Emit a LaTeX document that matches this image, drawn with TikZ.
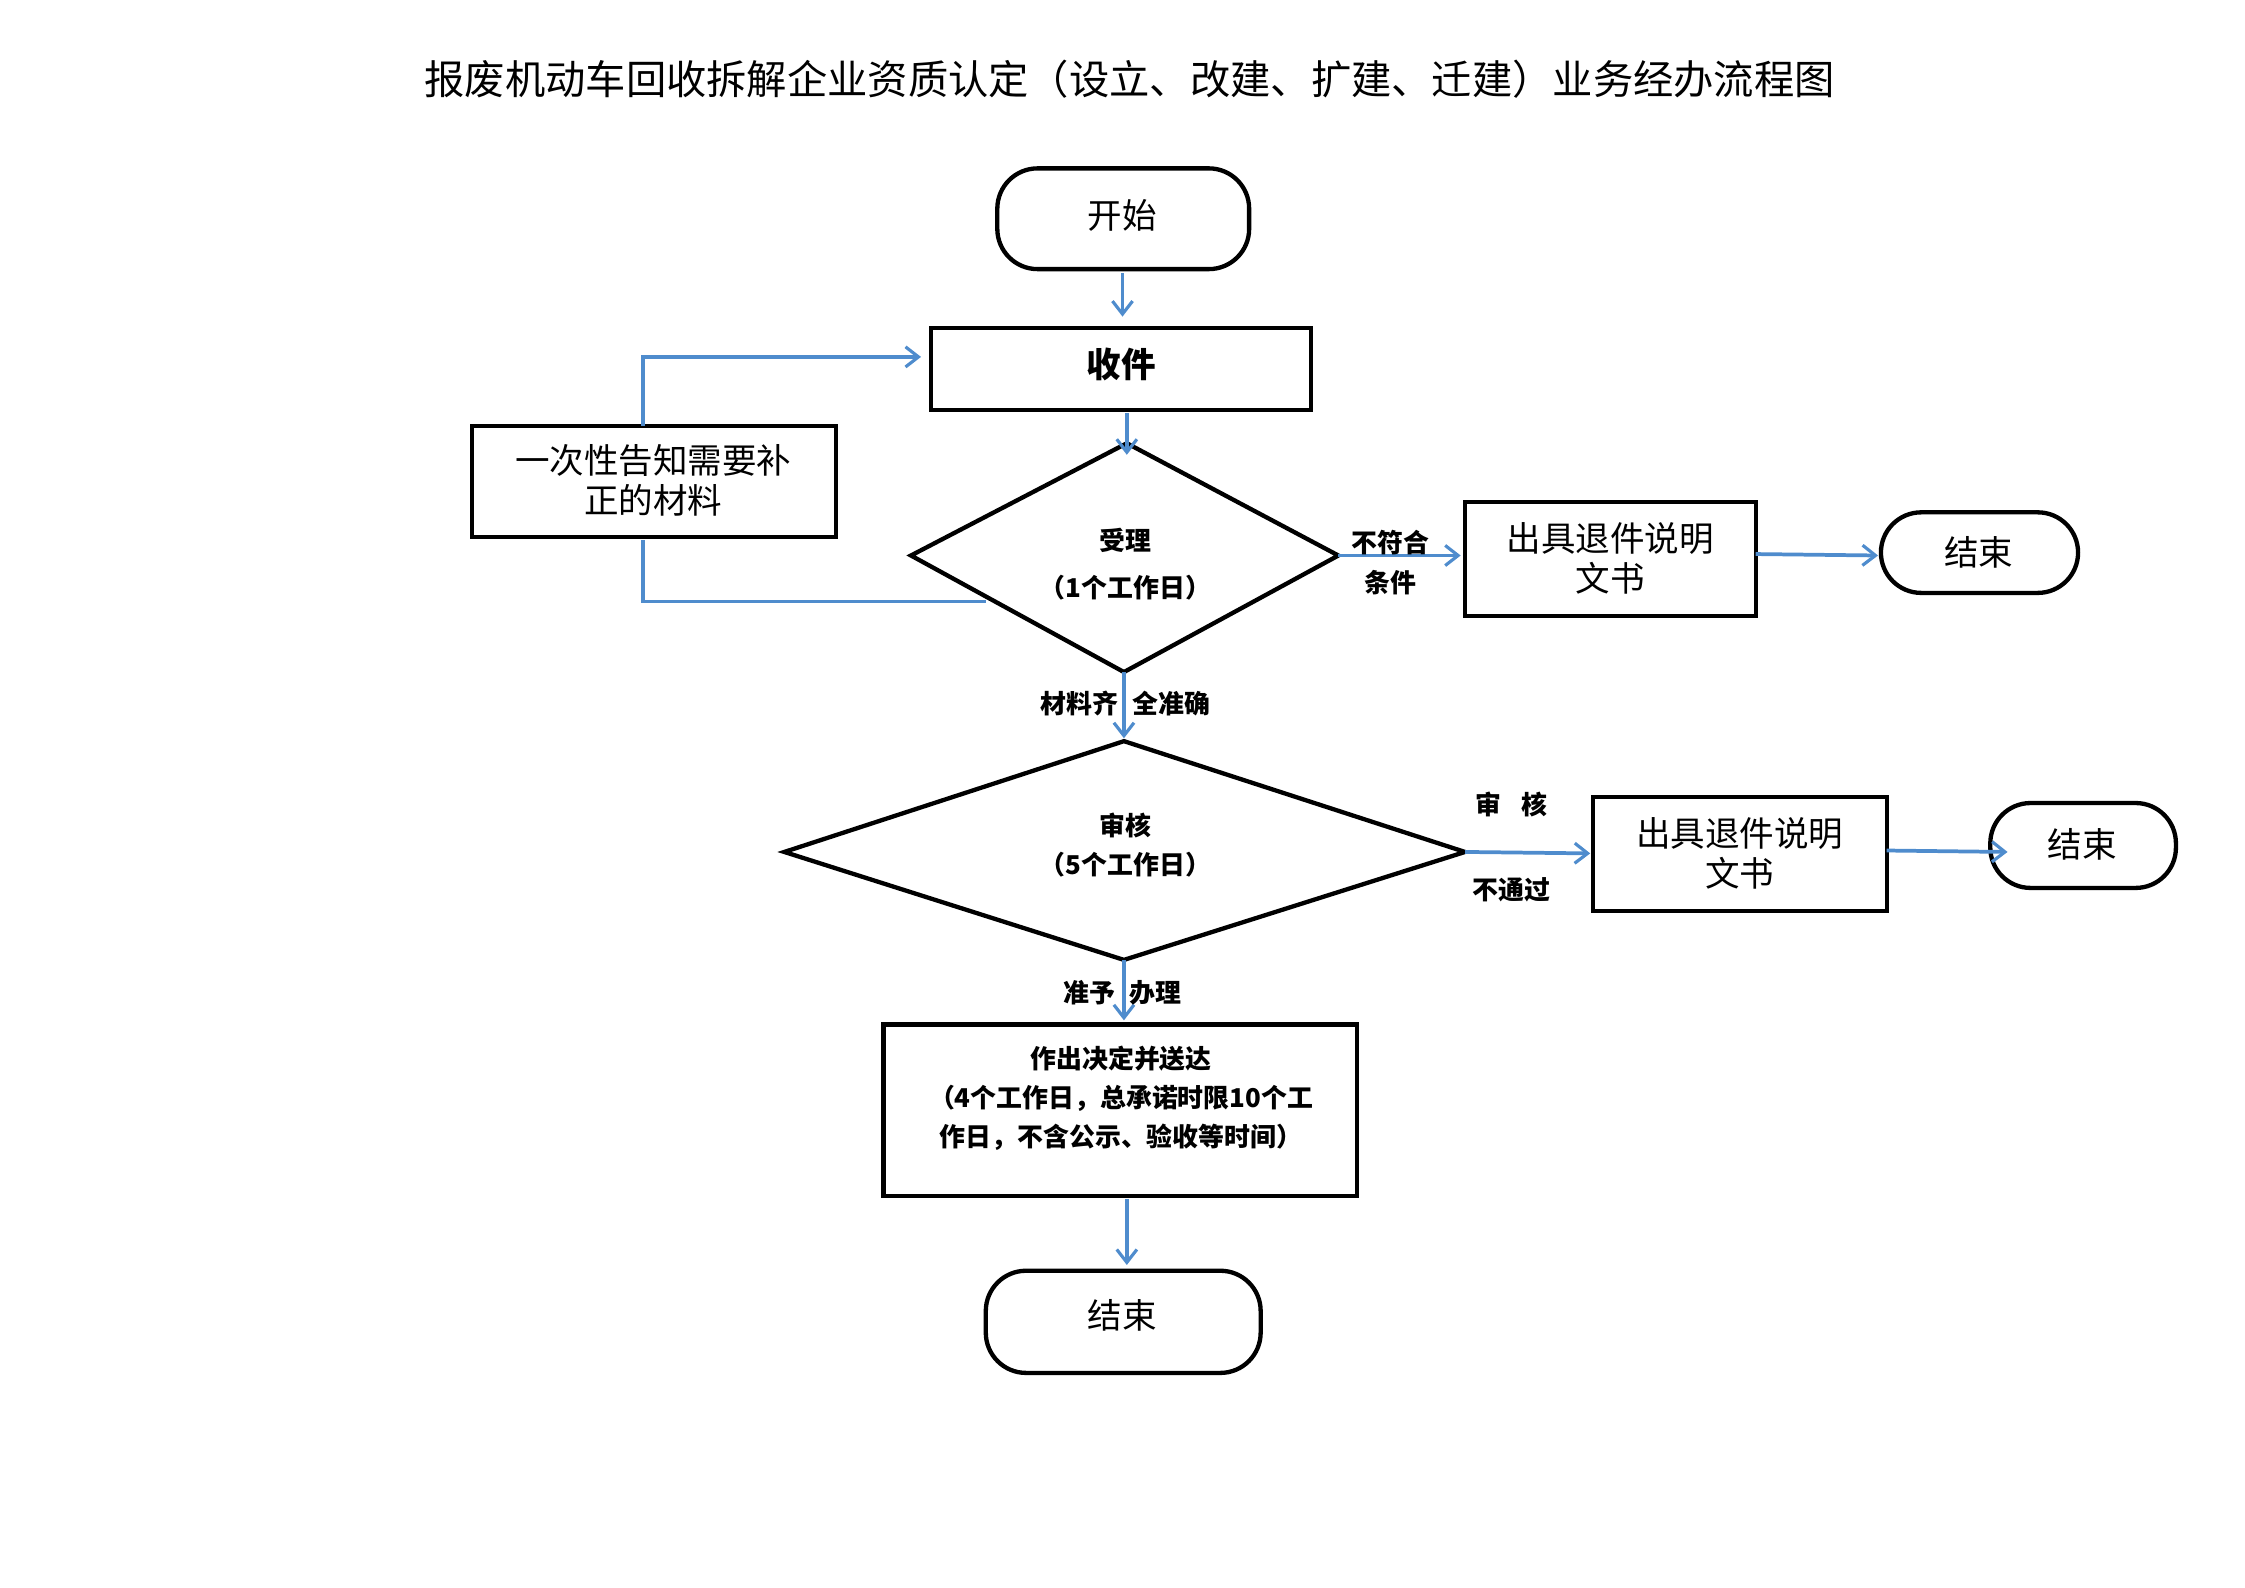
\documentclass[tikz,border=0pt]{standalone}
\usepackage{fontspec}
\setmainfont{Noto Sans CJK SC}
\usetikzlibrary{arrows.meta}
\definecolor{ab}{RGB}{79,140,205}
\begin{document}
\begin{tikzpicture}[x=1pt,y=-1pt,
 bx/.style={draw,line width=3pt},
 rnd/.style={draw,line width=3pt,rounded corners=28pt},
 ar/.style={draw=ab,line width=2.6pt,-{Straight Barb[length=9pt,width=14pt,line width=2.2pt]}},
 ln/.style={draw=ab,line width=2.6pt},
 t/.style={font=\fontsize{24}{28}\selectfont,align=center},
 s/.style={font=\fontsize{18}{27}\selectfont\bfseries,align=center}]
\useasboundingbox (0,0) rectangle (1560,1103);
\node[font=\fontsize{28}{32}\selectfont] (title) at (785,55) {报废机动车回收拆解企业资质认定（设立、改建、扩建、迁建）业务经办流程图};
\draw[rnd] (693,117) rectangle (868,187); \node[t] (start) at (780,150) {开始};
\draw[bx] (647,228) rectangle (911,285); \node[t,font=\fontsize{24}{28}\selectfont\bfseries] (recv) at (779,253) {收件};
\draw[bx] (783,308) -- (930,386) -- (781,467) -- (633,386) -- cycle;
\node[s] (acc) at (782,392) {受理\\[6pt]（1个工作日）};
\draw[bx] (328,296) rectangle (581,373); \node[t] (notice) at (454,334) {一次性告知需要补\\正的材料};
\draw[bx] (1018,349) rectangle (1220,428); \node[t] (ret1) at (1119,388) {出具退件说明\\文书};
\draw[rnd] (1307,356) rectangle (1444,412); \node[t] (end1) at (1375,384) {结束};
\draw[bx] (781,515) -- (1018,592) -- (781,667) -- (545,592) -- cycle;
\node[s] (rev) at (782,587) {审核\\（5个工作日）};
\draw[bx] (1107,554) rectangle (1311,633); \node[t] (ret2) at (1209,593) {出具退件说明\\文书};
\draw[rnd] (1383,558) rectangle (1512,617); \node[t] (end2) at (1447,587) {结束};
\draw[bx] (614,712) rectangle (943,831);
\node[s] (dec) at (779,763) {作出决定并送达\\（4个工作日，总承诺时限10个工\\作日，不含公示、验收等时间）};
\draw[rnd] (685,883) rectangle (876,954); \node[t] (end3) at (780,914) {结束};
\coordinate (a1) at (780,190); \coordinate (a2) at (780,220);
\draw[ar] (a1) -- (a2);
\coordinate (b1) at (783,287); \coordinate (b2) at (783,316);
\draw[ar] (b1) -- (b2);
\coordinate (c1) at (685,418); \coordinate (c2) at (447,418); \coordinate (c3) at (447,375);
\draw[ln] (c1) -- (c2) -- (c3);
\coordinate (d1) at (447,296); \coordinate (d2) at (447,248); \coordinate (d3) at (640,248);
\draw[ar] (d1) -- (d2) -- (d3);
\coordinate (e1) at (930,386); \coordinate (e2) at (1015,386);
\draw[ar] (e1) -- (e2);
\node[s,font=\fontsize{18}{20}\selectfont\bfseries] at (966,377) {不符合};
\node[s,font=\fontsize{18}{20}\selectfont\bfseries] at (966,405) {条件};
\coordinate (f1) at (1220,385); \coordinate (f2) at (1305,386);
\draw[ar] (f1) -- (f2);
\coordinate (g1) at (781,467); \coordinate (g2) at (781,513);
\draw[ar] (g1) -- (g2);
\node[s] at (782,489) {材料齐\hspace{10pt}全准确};
\coordinate (h1) at (1018,592); \coordinate (h2) at (1105,593);
\draw[ar] (h1) -- (h2);
\node[s] at (1050,559) {审\hspace{14pt}核};
\node[s] at (1050,618) {不通过};
\coordinate (i1) at (1311,591); \coordinate (i2) at (1395,592);
\draw[ar] (i1) -- (i2);
\coordinate (j1) at (781,667); \coordinate (j2) at (781,709);
\draw[ar] (j1) -- (j2);
\node[s] at (780,690) {准予\hspace{10pt}办理};
\coordinate (k1) at (783,833); \coordinate (k2) at (783,879);
\draw[ar] (k1) -- (k2);
\end{tikzpicture}
\end{document}
